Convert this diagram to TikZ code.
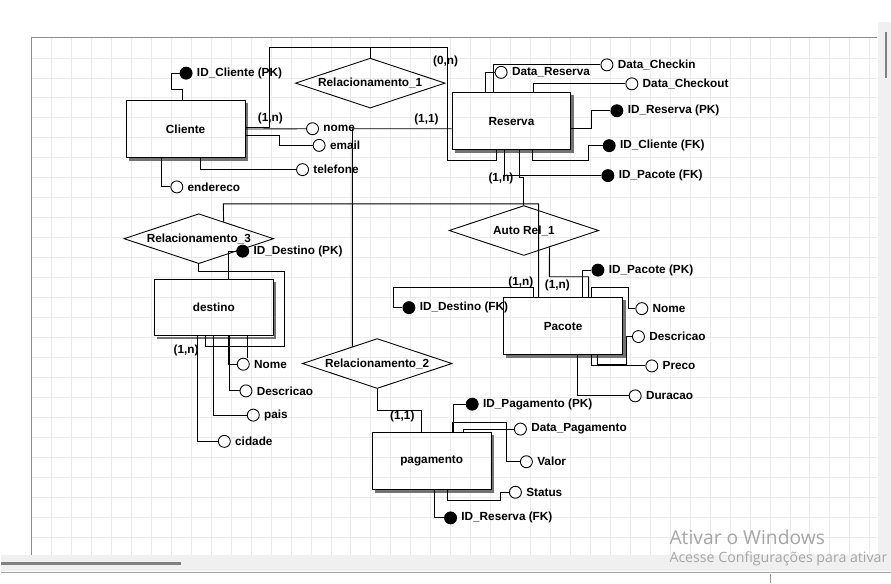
\documentclass[tikz,border=0pt]{standalone}
\usepackage{fontspec}
\setmainfont{Liberation Sans}
\newfontfamily\winfont{Open Sans}
\usepackage{tikz}
\usetikzlibrary{shapes.geometric, calc}

\begin{document}
\begin{tikzpicture}[
    x=1pt, y=-1pt,
    font=\fontsize{11.8}{13}\selectfont\bfseries,
    line width=0.9pt,
    entity/.style={draw, minimum width=119pt, minimum height=57pt, inner sep=0pt},
    rel/.style={draw, diamond, aspect=3, minimum width=150pt, 
                minimum height=50pt, inner sep=0pt},
    attr/.style={draw, circle, minimum size=12pt, inner sep=0pt, 
                 label={[attrlbl]right:#1}},
    keyattr/.style={attr=#1, fill=black},
    attrlbl/.style={inner sep=0pt, xshift=4pt},
    card/.style={inner sep=0pt},
    boxshadow/.style={draw=black!55, line width=2.4pt},
    gridline/.style={draw=black!8, line width=0.6pt},
    watermark/.style={text=black!35, inner sep=0pt, anchor=west}
]

% --- Window / canvas ---
\fill[white] (0,0) rectangle (891,584);
\foreach \gx in {50,70,...,870} \draw[gridline] (\gx,38) -- (\gx,556);
\foreach \gy in {58,78,...,556} \draw[gridline] (30,\gy) -- (877,\gy);
\draw[black!45, line width=1pt] (30,572) -- (30,38) -- (877,38);
\fill[black!6] (878,22) rectangle (891,556);
\draw[black!50, line width=2pt] (886,32) -- (886,78);
\fill[black!6] (0,556) rectangle (891,572);
\draw[black!50, line width=3pt] (0,565) -- (180,565);
\draw[black!35, line width=0.8pt] (0,573.5) -- (891,573.5);
\draw[black!40, line width=0.8pt] (771,575) -- (771,584);

% --- Entities ---
\node[entity] (cliente) at (184.5,129.5) {Cliente};
\node[entity] (reserva) at (511,121.5) {Reserva};
\node[entity] (destino) at (212.8,308.1) {destino};
\node[entity] (pacote) at (562.8,326.8) {Pacote};
\node[entity] (pagamento) at (431.1,462) {pagamento};

\foreach \ent in {cliente,reserva,destino,pacote,pagamento}
  \draw[boxshadow] ([xshift=1.4pt,yshift=-3pt]\ent.north east) 
    -- ([xshift=1.4pt,yshift=-1.4pt]\ent.south east) 
    -- ([xshift=3pt,yshift=-1.4pt]\ent.south west);

% --- Relationships ---
\node[rel] (rel1) at (369.5,83.3) {Relacionamento\_1};
\node[rel] (rel3) at (197.7,239.2) {Relacionamento\_3};
\node[rel] (auto) at (523.5,231) {Auto Rel\_1};
\node[rel] (rel2) at (376.5,364.3) {Relacionamento\_2};

% --- Attributes ---
\node[keyattr={ID\_Cliente (PK)}] (idcli) at (185,73.3) {};
\node[attr=nome] (nome) at (311.7,129) {};
\node[attr=email] (email) at (318.3,145.7) {};
\node[attr=telefone] (telefone) at (301.7,170) {};
\node[attr=endereco] (endereco) at (175.7,187.3) {};

\node[attr={Data\_Checkin}] (dtcheckin) at (606.7,65) {};
\node[attr={Data\_Reserva}] (dtreserva) at (500.7,72.5) {};
\node[attr={Data\_Checkout}] (dtcheckout) at (631.7,84) {};
\node[keyattr={ID\_Reserva (PK)}] (idres) at (616.7,111) {};
\node[keyattr={ID\_Cliente (FK)}] (idclifk) at (609,146) {};
\node[keyattr={ID\_Pacote (FK)}] (idpacfk) at (607.7,176) {};

\node[keyattr={ID\_Destino (PK)}] (iddest) at (241.7,251.7) {};
\node[attr=Nome] (dnome) at (242.3,365) {};
\node[attr=Descricao] (ddesc) at (245,391.7) {};
\node[attr=pais] (dpais) at (252.3,416) {};
\node[attr=cidade] (dcidade) at (223.3,442.3) {};

\node[keyattr={ID\_Pacote (PK)}] (idpac) at (597.7,270.7) {};
\node[keyattr={ID\_Destino (FK)}] (iddestfk) at (408.3,308.3) {};
\node[attr=Nome] (pnome) at (641.7,309.3) {};
\node[attr=Descricao] (pdesc) at (638.3,337.3) {};
\node[attr=Preco] (ppreco) at (651.7,366.7) {};
\node[attr=Duracao] (pdur) at (635,396.7) {};

\node[keyattr={ID\_Pagamento (PK)}] (idpag) at (471.7,405) {};
\node[attr={Data\_Pagamento}] (dtpag) at (520,430) {};
\node[attr=Valor] (valor) at (526,462.7) {};
\node[attr=Status] (status) at (515,493.3) {};
\node[keyattr={ID\_Reserva (FK)}] (idresfk) at (450,519) {};

% --- Cardinalities ---
\node[card] (cCliRel1) at (269.5,119) {(1,n)};
\node[card] (cResRel1) at (445,62) {(0,n)};
\node[card] (cResRel2) at (425.8,120) {(1,1)};
\node[card] (cResAuto) at (500.5,179) {(1,n)};
\node[card] (cPacRel3) at (520.5,283) {(1,n)};
\node[card] (cPacAuto) at (557,286) {(1,n)};
\node[card] (cDesRel3) at (185,351) {(1,n)};
\node[card] (cPagRel2) at (401.7,417.7) {(1,1)};

% --- Relationship lines ---
\draw (cliente.east |- 0,128) -- (269,128) -- (269,48) -- (369.5,48) -- (rel1.north);
\draw (rel1.north) -- (369.5,48) -- (447.3,48) -- (447.3,161) -- (495.5,161) 
      -- (reserva.south -| 495.5,0);
\draw (reserva.west |- 0,129) -- (351.7,129) 
      -- ($(rel2.north west)!0.34!(rel2.north)$);
\draw (rel2.south) -- (376.5,411) -- (420.7,411) -- (pagamento.north -| 420.7,0);
\draw (reserva.south -| 519.3,0) -- (519.3,177.5) -- (523.5,177.5) -- (auto.north);
\draw ($(auto.south)!0.34!(auto.east)$) -- (549,277.3) -- (588.3,277.3) 
      -- (pacote.north -| 588.3,0);
\draw ($(rel3.north)!0.33!(rel3.east)$) -- (222.3,204.3) -- (538.3,204.3) 
      -- (pacote.north -| 538.3,0);
\draw (rel3.south) -- (197.7,271.7) -- (283.3,271.7) -- (283.3,347.3) 
      -- (204.3,347.3) -- (destino.south -| 204.3,0);

% --- Attribute lines: Cliente ---
\draw (cliente.north -| 181,0) -- (181,90) -- (170,90) -- (170,73.3) -- (idcli);
\draw (cliente.east |- 0,129.3) -- (nome);
\draw (cliente.east |- 0,136) -- (278.3,136) -- (278.3,145.7) -- (email);
\draw (cliente.south -| 199.3,0) -- (199.3,170) -- (telefone);
\draw (cliente.south -| 160,0) -- (160,187.3) -- (endereco);

% --- Attribute lines: Reserva ---
\draw (reserva.north -| 485,0) -- (485,72.5) -- (dtreserva);
\draw (reserva.north -| 493.3,0) -- (493.3,65) -- (dtcheckin);
\draw (reserva.north -| 533.3,0) -- (533.3,84) -- (dtcheckout);
\draw (reserva.east |- 0,128.3) -- (590.7,128.3) -- (590.7,111) -- (idres);
\draw (reserva.south -| 532.3,0) -- (532.3,160.7) -- (587.7,160.7) -- (587.7,146) 
      -- (idclifk);
\draw (reserva.south -| 504,0) -- (504,176) -- (idpacfk);

% --- Attribute lines: destino ---
\draw (destino.north -| 227.3,0) -- (227.3,251.7) -- (iddest);
\draw (destino.south -| 246,0) -- (dnome.north -| 246,0);
\draw (destino.south -| 227.3,0) -- (227.3,365) -- (dnome);
\draw (destino.south -| 228.5,0) -- (228.5,391.7) -- (ddesc);
\draw (destino.south -| 212.7,0) -- (212.7,416) -- (dpais);
\draw (destino.south -| 196.7,0) -- (196.7,442.3) -- (dcidade);

% --- Attribute lines: Pacote ---
\draw (pacote.north -| 582.3,0) -- (582.3,270.7) -- (idpac);
\draw (pacote.north -| 532.7,0) -- (532.7,288.3) -- (392.3,288.3) -- (392.3,308.3) 
      -- (iddestfk);
\draw (pacote.north -| 591.7,0) -- (591.7,288.3) -- (628.3,288.3) -- (628.3,309.3) 
      -- (pnome);
\draw (pacote.south -| 597.7,0) -- (597.7,365.3) -- (626.7,365.3) -- (626.7,337.3) 
      -- (pdesc);
\draw (pacote.south -| 591.7,0) -- (591.7,366.7) -- (ppreco);
\draw (pacote.south -| 577.3,0) -- (577.3,396.7) -- (pdur);

% --- Attribute lines: pagamento ---
\draw (pagamento.north -| 453.3,0) -- (453.3,405) -- (idpag);
\draw (pagamento.north -| 463.3,0) -- (463.3,430) -- (dtpag);
\draw (pagamento.north -| 451.7,0) -- (451.7,423.3) -- (505.7,423.3) -- (505.7,462.7) 
      -- (valor);
\draw (pagamento.south -| 446.7,0) -- (446.7,501.7) -- (500,501.7) -- (500,493.3) 
      -- (status);
\draw (pagamento.south -| 434,0) -- (434,519) -- (idresfk);

% --- Windows notice ---
\node[watermark, font=\winfont\fontsize{19.3}{21}\selectfont] (wmtitle) at (669,538) 
     {Ativar o Windows};
\node[watermark, font=\winfont\fontsize{14.2}{15}\selectfont] (wmtext) at (669,560) 
     {Acesse Configurações para ativar};

\end{tikzpicture}
\end{document}
